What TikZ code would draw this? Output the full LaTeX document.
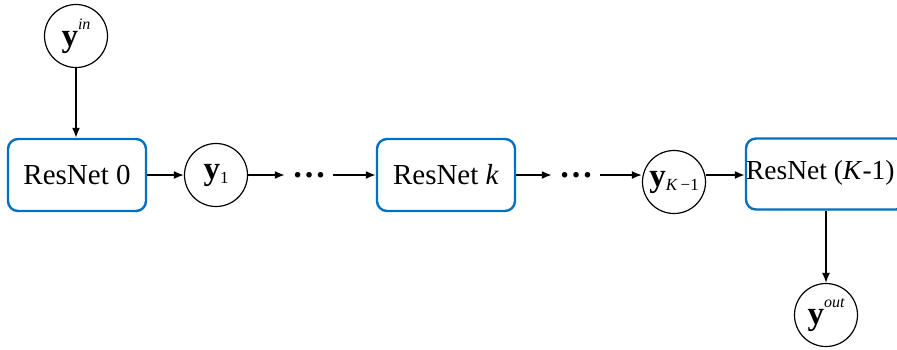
\documentclass[tikz,border=0pt]{standalone}
\usepackage{fontspec}
\setmainfont{Liberation Serif}
\usetikzlibrary{arrows.meta}
\definecolor{netblue}{RGB}{0,112,192}
\tikzset{
  resbox/.style={draw=netblue,line width=2.4pt,rounded corners=10pt,
    minimum width=138pt,minimum height=72pt,inner sep=0pt},
  var/.style={circle,draw,line width=1.2pt,minimum size=63pt,inner sep=0pt},
  gap/.style={inner sep=7pt,font=\fontsize{34}{34}\selectfont},
  link/.style={-{Latex[length=10pt,width=8pt]},line width=1.6pt}
}
\newcommand{\vy}{{\fontsize{33}{33}\selectfont\textbf{y}}}
\newcommand{\hi}[1]{\raisebox{1.3ex}{\fontsize{16}{16}\selectfont\itshape #1}}
\newcommand{\lo}[1]{\raisebox{-0.35ex}{\fontsize{17}{17}\selectfont #1}}

\begin{document}
\begin{tikzpicture}[x=1pt,y=-1pt,font=\fontsize{29}{32}\selectfont]
  \useasboundingbox (0,0) rectangle (897,349);
  % variables
  \node[var] (yin) at (76,36) {\vy\hi{in}};
  \node[var] (y1) at (216,175) {\vy\lo{1}};
  \node[var] (yK) at (674,182) {\vy\lo{\textit{K}\,−1}};
  \node[var] (yout) at (826,315) {\vy\hi{out}};
  % blocks
  \node[resbox] (r0) at (77,175) {ResNet 0};
  \node[resbox] (rk) at (446,175) {ResNet \textit{k}};
  \node[resbox,minimum width=160pt,minimum height=71pt] (rK) at (826,174) {};
  \node[anchor=west,inner sep=0pt,font=\fontsize{27.5}{32}\selectfont] (rKtxt)
    at ([xshift=1pt,yshift=1pt]rK.west) {ResNet (\textit{K}-1)};
  % dots
  \node[gap] (d1) at (309,175) {\textbf{…}};
  \node[gap] (d2) at (576,175) {\textbf{…}};
  % links
  \draw[link] (yin) -- (yin |- r0.north);
  \draw[link] (r0) -- (y1);
  \draw[link] (y1) -- (d1);
  \draw[link] (d1) -- (rk);
  \draw[link] (rk) -- (d2);
  \draw[link] (d2) -- (d2 -| yK.west);
  \draw[link] (yK.east |- d2) -- (d2 -| rK.west);
  \draw[link] (rK) -- (yout);
\end{tikzpicture}
\end{document}
